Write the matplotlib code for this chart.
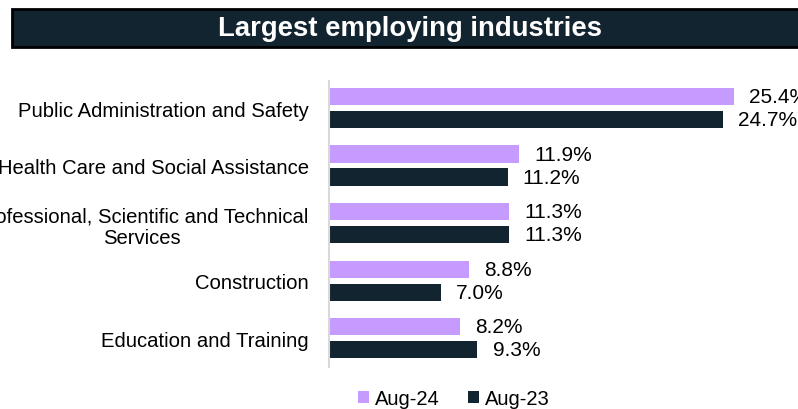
import numpy as np
import matplotlib.pyplot as plt
from matplotlib.patches import Rectangle

plt.rcParams['font.family'] = ['Liberation Sans', 'DejaVu Sans']

industries = ['Public Administration and Safety',
              'Health Care and Social Assistance',
              'Professional, Scientific and Technical\nServices',
              'Construction',
              'Education and Training']
aug24 = [25.4, 11.9, 11.3, 8.8, 8.2]
aug23 = [24.7, 11.2, 11.3, 7.0, 9.3]

purple = '#c59bff'
navy = '#132431'

W, H = 798, 410
fig = plt.figure(figsize=(W / 100, H / 100), dpi=100)

# title banner
fig.patches.append(Rectangle((12 / W, 1 - 48 / H), 800 / W, 38 / H,
                             transform=fig.transFigure, facecolor=navy,
                             edgecolor='black', linewidth=2))
fig.text(410 / W, 1 - 29 / H, 'Largest employing industries', color='white',
         fontsize=19.8, fontweight='bold', ha='center', va='center')

ax = fig.add_axes([329 / W, 1 - 368 / H, (W - 329) / W, (368 - 82) / H])
y = np.arange(len(industries))
h = 0.3
b1 = ax.barh(y - 0.2, aug24, height=h, color=purple, label='Aug-24')
b2 = ax.barh(y + 0.2, aug23, height=h, color=navy, label='Aug-23')

for bars in (b1, b2):
    for rect in bars:
        ax.annotate(f'{rect.get_width():.1f}%',
                    (rect.get_width(), rect.get_y() + rect.get_height() / 2),
                    xytext=(11, 0), textcoords='offset points',
                    va='center', ha='left', fontsize=15, color='black',
                    annotation_clip=False)

ax.set_xlim(0, (W - 329) / (405 / 25.4))
ax.set_ylim(4.5, -0.47)
ax.set_yticks(y)
ax.set_yticklabels(industries, fontsize=14.6, multialignment='center')
ax.tick_params(axis='y', length=0, pad=14.5)
ax.set_xticks([])
for s in ['top', 'right', 'bottom']:
    ax.spines[s].set_visible(False)
ax.spines['left'].set_color('#d9d9d9')
ax.spines['left'].set_linewidth(1.5)

fig.legend(handles=[b1, b2], loc='center', bbox_to_anchor=(454 / W, 1 - 400 / H),
           ncol=2, frameon=False, fontsize=14.5, handlelength=0.55, handleheight=0.55,
           handletextpad=0.3, columnspacing=1.4)

fig.savefig('out.png', dpi=100)
